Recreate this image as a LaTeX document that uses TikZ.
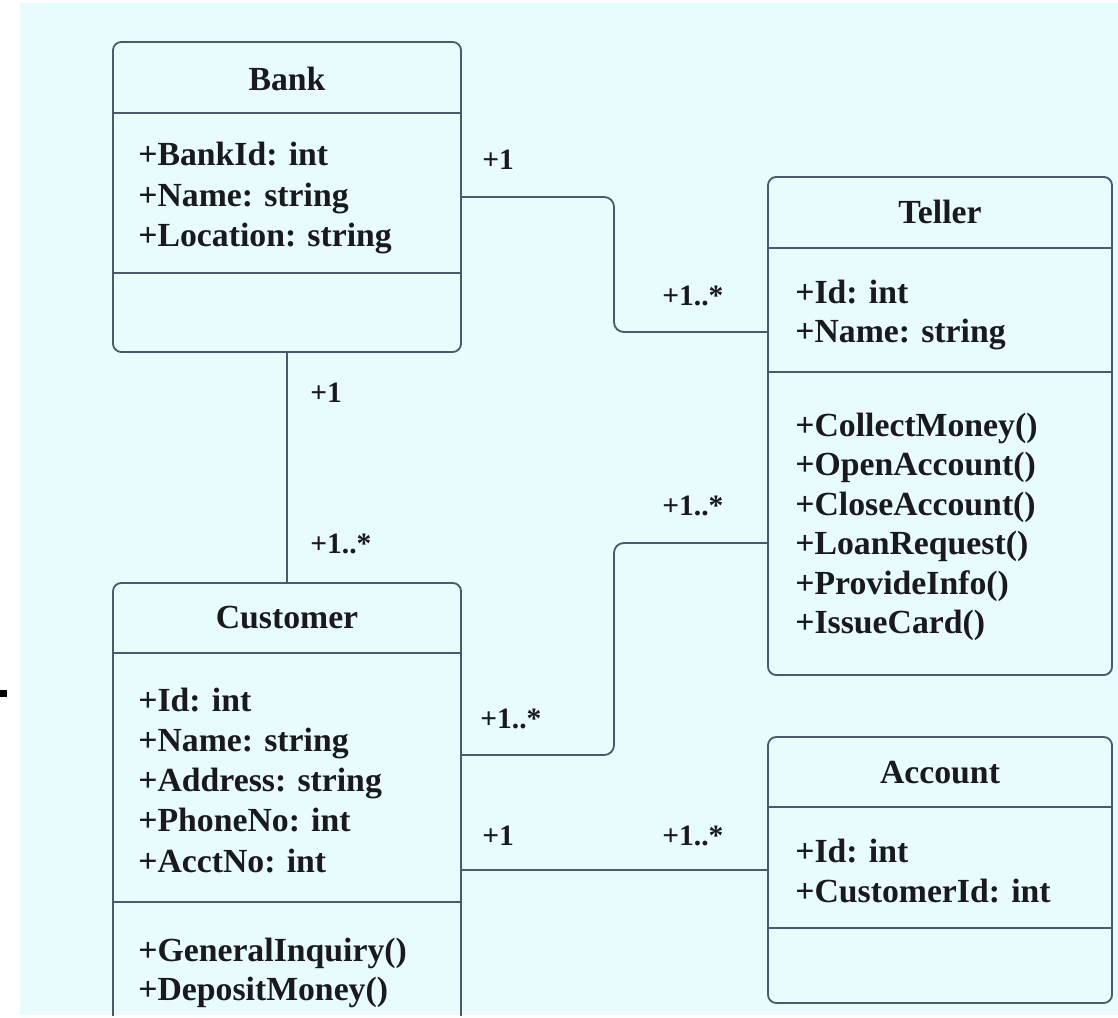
\documentclass[tikz,border=0pt]{standalone}
\usepackage{xcolor}
\usepackage{fontspec}
\setmainfont{Liberation Serif}
\usepackage{tikz}
\usetikzlibrary{calc}

\definecolor{bgcyan}{RGB}{233,252,253}
\definecolor{umlline}{RGB}{78,88,108}
\definecolor{umltext}{RGB}{25,25,30}

\tikzset{
    classbox/.style={draw=umlline, line width=1.3pt, rounded corners=6pt, inner sep=0pt},
    sepline/.style={umlline, line width=1.3pt},
    assoc/.style={umlline, line width=1.3pt, rounded corners=7pt},
    classname/.style={anchor=base, inner sep=0pt, text=umltext, font=\fontsize{24}{28}\selectfont\bfseries},
    member/.style={anchor=base west, inner sep=0pt, text=umltext, font=\fontsize{24}{28}\selectfont\bfseries},
    mult/.style={anchor=base west, inner sep=0pt, text=umltext, font=\fontsize{21}{24}\selectfont\bfseries}
}

\begin{document}
\begin{tikzpicture}[x=0.025cm, y=-0.025cm]
    \useasboundingbox (0,0) rectangle (1118,1018);
    \fill[white] (0,0) rectangle (1118,1018);
    \fill[black] (0,690) rectangle (7,697);
    \fill[bgcyan] (20,3) rectangle (1118,1015);

    \begin{scope}
    \clip (20,3) rectangle (1118,1015);

    % class boxes
    \node[classbox, minimum width=8.7cm, minimum height=7.75cm] (bank) at (287,197) {};
    \node[classbox, minimum width=8.6cm, minimum height=12.45cm] (teller) at (940,426) {};
    \node[classbox, minimum width=8.7cm, minimum height=12.9cm] (customer) at (287,841) {};
    \node[classbox, minimum width=8.6cm, minimum height=6.65cm] (account) at (940,870) {};

    % compartments
    \draw[sepline] (bank.west |- 0,113) -- (bank.east |- 0,113);
    \draw[sepline] (bank.west |- 0,273) -- (bank.east |- 0,273);
    \draw[sepline] (teller.west |- 0,248) -- (teller.east |- 0,248);
    \draw[sepline] (teller.west |- 0,372) -- (teller.east |- 0,372);
    \draw[sepline] (customer.west |- 0,653) -- (customer.east |- 0,653);
    \draw[sepline] (customer.west |- 0,902) -- (customer.east |- 0,902);
    \draw[sepline] (account.west |- 0,807) -- (account.east |- 0,807);
    \draw[sepline] (account.west |- 0,928) -- (account.east |- 0,928);

    % names
    \node[classname] (bankname) at (287,91) {Bank};
    \node[classname] (tellername) at (940,223) {Teller};
    \node[classname] (customername) at (287,628) {Customer};
    \node[classname] (accountname) at (940,783) {Account};

    % attributes and operations
    \foreach \txt [count=\i] in {+BankId: int, +Name: string, +Location: string}
        \node[member] (bankattr\i) at (138,126+40*\i) {\txt};
    \foreach \txt [count=\i] in {+Id: int, +Name: string}
        \node[member] (tellerattr\i) at (795,264+39*\i) {\txt};
    \foreach \txt [count=\i] in {+CollectMoney(), +OpenAccount(), +CloseAccount(), +LoanRequest(), +ProvideInfo(), +IssueCard()}
        \node[member] (tellerop\i) at (795,397+39.4*\i) {\txt};
    \foreach \txt [count=\i] in {+Id: int, +Name: string, +Address: string, +PhoneNo: int, +AcctNo: int}
        \node[member] (custattr\i) at (138,671+40.2*\i) {\txt};
    \foreach \txt [count=\i] in {+GeneralInquiry(), +DepositMoney()}
        \node[member] (custop\i) at (138,923+38.5*\i) {\txt};
    \foreach \txt [count=\i] in {+Id: int, +CustomerId: int}
        \node[member] (acctattr\i) at (795,822+40*\i) {\txt};

    % associations
    \draw[assoc] (bank.east |- 0,197) -- (614,197) -- (614,332) -- (teller.west |- 0,332);
    \draw[assoc] (bank.south) -- (customer.north -| bank.south);
    \draw[assoc] (customer.east |- 0,755) -- (614,755) -- (614,543) -- (teller.west |- 0,543);
    \draw[assoc] (customer.east |- 0,870) -- (account.west);

    % multiplicities
    \node[mult] (m1) at (482,170) {+1};
    \node[mult] (m2) at (662,305) {+1..*};
    \node[mult] (m3) at (310,402) {+1};
    \node[mult] (m4) at (310,553) {+1..*};
    \node[mult] (m5) at (662,515) {+1..*};
    \node[mult] (m6) at (480,728) {+1..*};
    \node[mult] (m7) at (482,845) {+1};
    \node[mult] (m8) at (662,845) {+1..*};
    \end{scope}
\end{tikzpicture}
\end{document}
